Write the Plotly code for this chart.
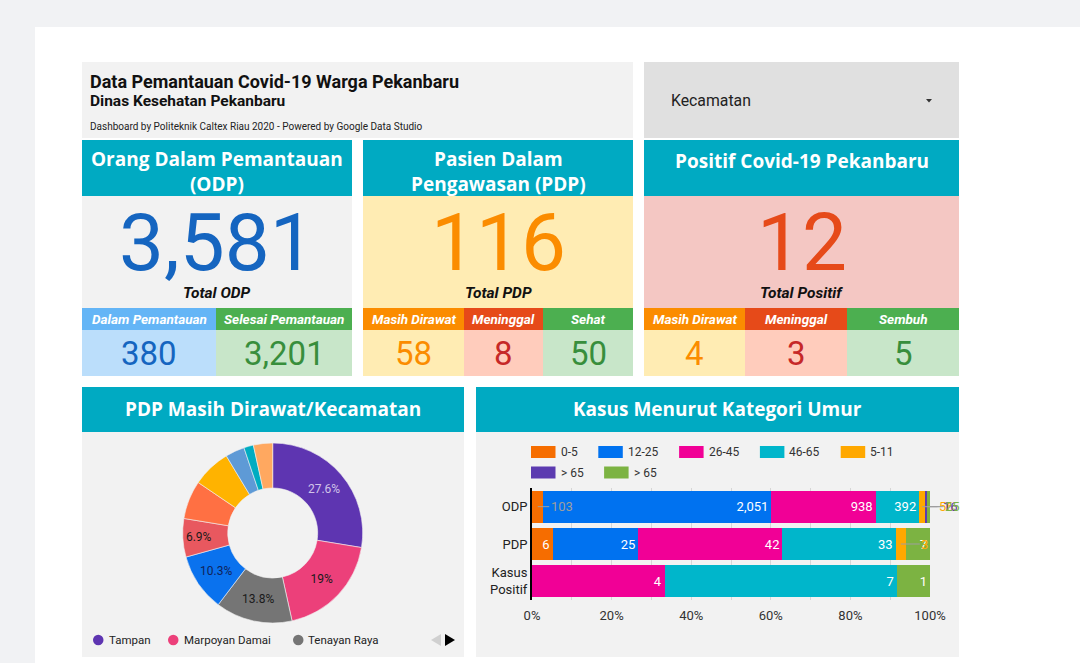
import plotly.graph_objects as go

W, H = 1080, 663

# ---------------- DATA ----------------
odp_labels = ["Dalam Pemantauan", "Selesai Pemantauan"]
odp_values = [380, 3201]
pdp_labels = ["Masih Dirawat", "Meninggal", "Sehat"]
pdp_values = [58, 8, 50]
pos_labels = ["Masih Dirawat", "Meninggal", "Sembuh"]
pos_values = [4, 3, 5]

kec_names = ["Tampan", "Marpoyan Damai", "Tenayan Raya", "Bukit Raya", "Payung Sekaki",
             "Rumbai", "Sukajadi", "Senapelan", "Lima Puluh", "Sail"]
kec_values = [16, 11, 8, 6, 4, 4, 4, 2, 1, 2]
kec_colors = ["#5e35b1", "#ec407a", "#757575", "#0a72ee", "#e8585f",
              "#ff7043", "#ffb300", "#5e9ad6", "#00acc1", "#ffa860"]
kec_text_colors = ["#d1c4e9", "#1a1a1a", "#1a1a1a", "#10235a", "#1a1a1a",
                   "#1a1a1a", "#1a1a1a", "#1a1a1a", "#1a1a1a", "#1a1a1a"]
kec_labelled = 5          # slices that get a percentage label
kec_legend_shown = 3      # legend entries visible on first legend page

age_categories = ["ODP", "PDP", "Kasus Positif"]
age_cat_ticks = ["ODP", "PDP", "Kasus<br>Positif"]
age_series = ["0-5", "12-25", "26-45", "46-65", "5-11", "> 65", "> 65"]
age_colors = ["#f66d00", "#0072f0", "#f10096", "#00b6cb", "#ffa800", "#5c3bb0", "#7cb342"]
age_values = [
    [103, 6, 0],      # 0-5
    [2051, 25, 0],    # 12-25
    [938, 42, 4],     # 26-45
    [392, 33, 7],     # 46-65
    [56, 3, 0],       # 5-11
    [16, 0, 0],       # > 65
    [25, 7, 1],       # > 65
]

# ---------------- HELPERS ----------------
def X(px):
    return px / W

def Y(py):
    return 1 - py / H

shapes = []
annotations = []

def rect(x0, y0, x1, y1, color):
    shapes.append(dict(type="rect", xref="paper", yref="paper",
                       x0=X(x0), x1=X(x1), y0=Y(y1), y1=Y(y0),
                       fillcolor=color, line=dict(width=0), layer="below"))

def text(px, py, s, size, color="#212121", family="Roboto", xanchor="center", yanchor="middle"):
    if xanchor == "left":
        px -= 2   # compensate annotation padding
    annotations.append(dict(x=X(px), y=Y(py), xref="paper", yref="paper", text=s,
                            showarrow=False, xanchor=xanchor, yanchor=yanchor,
                            font=dict(size=size, color=color, family=family)))

def fmt(v):
    return f"{v:,}"

TEAL = "#00aac2"
HEAD_FONT = "Open Sans"

# ---------------- PAGE ----------------
rect(35, 27, 1080, 663, "#ffffff")

# title box
rect(82, 62, 633, 138, "#f2f2f2")
text(90, 81, "<b>Data Pemantauan Covid-19 Warga Pekanbaru</b>", 18, "#111111", xanchor="left")
text(90, 101, "<b>Dinas Kesehatan Pekanbaru</b>", 15.5, "#111111", xanchor="left")
text(90, 127, "Dashboard by Politeknik Caltex Riau 2020 - Powered by Google Data Studio", 10,
     "#222222", xanchor="left")

# dropdown
rect(644, 62, 959, 138, "#e0e0e0")
text(671, 100, "Kecamatan", 15.8, "#222222", xanchor="left")
shapes.append(dict(type="path", xref="paper", yref="paper",
                   path=f"M {X(926)} {Y(99)} L {X(932)} {Y(99)} L {X(929)} {Y(102.5)} Z",
                   fillcolor="#333333", line=dict(width=0)))

# ---------------- KPI CARDS ----------------
cards = [
    dict(x0=82, x1=352, title="<b>Orang Dalam Pemantauan<br>(ODP)</b>", title_y=172,
         body="#f2f2f2", total=sum(odp_values), total_color="#1565c0", total_label="Total ODP",
         cols=[(82, 216), (216, 352)], labels=odp_labels, values=odp_values,
         head_colors=["#64b5f6", "#4caf50"], cell_colors=["#bbdefb", "#c8e6c9"],
         val_colors=["#1565c0", "#388e3c"]),
    dict(x0=363, x1=633, title="<b>Pasien Dalam<br>Pengawasan (PDP)</b>", title_y=172,
         body="#ffecb3", total=sum(pdp_values), total_color="#fb8c00", total_label="Total PDP",
         cols=[(363, 464), (464, 543), (543, 633)], labels=pdp_labels, values=pdp_values,
         head_colors=["#fb8c00", "#e64a19", "#4caf50"], cell_colors=["#ffecb3", "#ffccbc", "#c8e6c9"],
         val_colors=["#fb8c00", "#c62828", "#388e3c"]),
    dict(x0=644, x1=959, title="<b>Positif Covid-19 Pekanbaru</b>", title_y=161,
         body="#f4c7c3", total=sum(pos_values), total_color="#e64a19", total_label="Total Positif",
         cols=[(644, 745), (745, 847), (847, 959)], labels=pos_labels, values=pos_values,
         head_colors=["#fb8c00", "#e64a19", "#4caf50"], cell_colors=["#ffecb3", "#ffccbc", "#c8e6c9"],
         val_colors=["#fb8c00", "#c62828", "#388e3c"]),
]

for c in cards:
    cx = (c["x0"] + c["x1"]) / 2
    rect(c["x0"], 140, c["x1"], 196, TEAL)
    text(cx, c["title_y"], c["title"], 19, "#ffffff", family=HEAD_FONT)
    rect(c["x0"], 196, c["x1"], 308, c["body"])
    text(cx, 243, fmt(c["total"]), 80, c["total_color"])
    text(cx, 293, f"<b><i>{c['total_label']}</i></b>", 15.5, "#111111")
    for (a, b), lab, val, hc, cc, vc in zip(c["cols"], c["labels"], c["values"],
                                            c["head_colors"], c["cell_colors"], c["val_colors"]):
        rect(a, 308, b, 330, hc)
        rect(a, 330, b, 376, cc)
        text((a + b) / 2, 319, f"<b><i>{lab}</i></b>", 13.5, "#ffffff")
        text((a + b) / 2, 353, fmt(val), 33, vc)

# ---------------- BOTTOM PANELS ----------------
rect(82, 387, 464, 432, TEAL)
text(273, 409, "<b>PDP Masih Dirawat/Kecamatan</b>", 19, "#ffffff", family=HEAD_FONT)
rect(82, 432, 464, 657, "#f2f2f2")

rect(476, 387, 959, 432, TEAL)
text(717, 409, "<b>Kasus Menurut Kategori Umur</b>", 19, "#ffffff", family=HEAD_FONT)
rect(476, 432, 959, 657, "#f2f2f2")

fig = go.Figure()

# ---------------- PIE ----------------
tot_kec = sum(kec_values)

def pct_label(v):
    p = round(v / tot_kec * 100, 1)
    s = f"{p:.1f}"
    if s.endswith(".0"):
        s = s[:-2]
    return s + "%"

pie_text = [pct_label(v) if i < kec_labelled else "" for i, v in enumerate(kec_values)]
pcx, pcy, pr = 272.7, 533, 90
fig.add_trace(go.Pie(
    labels=kec_names, values=kec_values, text=pie_text, textinfo="text",
    textposition="inside", insidetextorientation="horizontal",
    hole=0.5, sort=False, direction="clockwise", rotation=0,
    marker=dict(colors=kec_colors, line=dict(color="#f2f2f2", width=0.6)),
    textfont=dict(family="Roboto", size=12, color=kec_text_colors),
    domain=dict(x=[X(pcx - pr), X(pcx + pr)], y=[Y(pcy + pr), Y(pcy - pr)]),
    showlegend=False, hoverinfo="label+value",
))

# pie legend (first page)
legend_x = [93, 168, 293]
for i in range(kec_legend_shown):
    lx = legend_x[i]
    shapes.append(dict(type="circle", xref="paper", yref="paper",
                       x0=X(lx), x1=X(lx + 10.5), y0=Y(645.3), y1=Y(634.7),
                       fillcolor=kec_colors[i], line=dict(width=0)))
    text(lx + 15.5, 640, kec_names[i], 11.5, "#222222", xanchor="left")
shapes.append(dict(type="path", xref="paper", yref="paper",
                   path=f"M {X(441)} {Y(634)} L {X(441)} {Y(646)} L {X(431)} {Y(640)} Z",
                   fillcolor="#d0d0d0", line=dict(width=0)))
shapes.append(dict(type="path", xref="paper", yref="paper",
                   path=f"M {X(445)} {Y(634)} L {X(445)} {Y(646)} L {X(455)} {Y(640)} Z",
                   fillcolor="#000000", line=dict(width=0)))

# ---------------- STACKED 100% BAR ----------------
cat_totals = [sum(s[j] for s in age_values) for j in range(len(age_categories))]
small = 0.035

for si, (name, col, vals) in enumerate(zip(age_series, age_colors, age_values)):
    txt = []
    for j, v in enumerate(vals):
        frac = v / cat_totals[j]
        txt.append(fmt(v) if (v > 0 and frac >= small) else "")
    fig.add_trace(go.Bar(
        y=age_categories, x=vals, name=name, orientation="h",
        marker=dict(color=col, line=dict(width=0)),
        text=txt, texttemplate="%{text}", textposition="inside", insidetextanchor="end",
        textangle=0, insidetextfont=dict(color="#ffffff", size=13, family="Roboto"),
        hoverinfo="name+x", showlegend=False, xaxis="x", yaxis="y",
    ))

# leader labels for thin segments
for j, cat in enumerate(age_categories):
    cum = 0
    for si, vals in enumerate(age_values):
        v = vals[j]
        frac = v / cat_totals[j]
        if v > 0 and frac < small:
            tcol = "#9e9e9e" if si < 4 else age_colors[si]
            annotations.append(dict(
                x=cum + frac / 2, y=cat, xref="x", yref="y", text=fmt(v),
                showarrow=True, arrowhead=0, arrowwidth=1, arrowcolor="#9e9e9e",
                ax=24, ay=0, font=dict(size=13, color=tcol, family="Roboto"),
            ))
        cum += frac

# manual bar legend
lx, ly = 531, 452
for name, col in zip(age_series, age_colors):
    tw = sum(6.75 if ch.isdigit() else 3.3 if ch == "-" else 6.1 if ch == ">" else 3.0 for ch in name)
    if lx + 30 + tw > 935:
        lx, ly = 531, ly + 20.5
    shapes.append(dict(type="rect", xref="paper", yref="paper",
                       x0=X(lx), x1=X(lx + 24.5), y0=Y(ly + 6), y1=Y(ly - 6),
                       fillcolor=col, line=dict(width=0)))
    text(lx + 29.5, ly, name, 12, "#333333", xanchor="left")
    lx += 30 + tw + 20.5

fig.update_layout(
    width=W, height=H, autosize=False,
    margin=dict(l=0, r=0, t=0, b=0, autoexpand=False),
    paper_bgcolor="#f1f2f4", plot_bgcolor="rgba(0,0,0,0)",
    barmode="stack", barnorm="fraction", bargap=0.14,
    font=dict(family="Roboto", color="#222222"),
    shapes=shapes, annotations=annotations,
    xaxis=dict(domain=[X(532), X(930)], range=[0, 1], dtick=0.2, tickformat=".0%",
               showgrid=True, gridcolor="#d6d6d6", gridwidth=1, zeroline=False,
               showline=False, ticks="", tickfont=dict(size=13, color="#333333"),
               ticklabelstandoff=6,
               minor=dict(dtick=0.1, showgrid=True, gridcolor="#d6d6d6", gridwidth=1),
               fixedrange=True),
    yaxis=dict(domain=[Y(600), Y(488)], categoryorder="array",
               categoryarray=age_categories, autorange="reversed",
               tickmode="array", tickvals=age_categories, ticktext=age_cat_ticks,
               showline=True, linecolor="#000000", linewidth=2, showgrid=False,
               ticks="", tickfont=dict(size=13, color="#222222"), fixedrange=True),
)

fig.write_html("out.html", config={"responsive": False})
